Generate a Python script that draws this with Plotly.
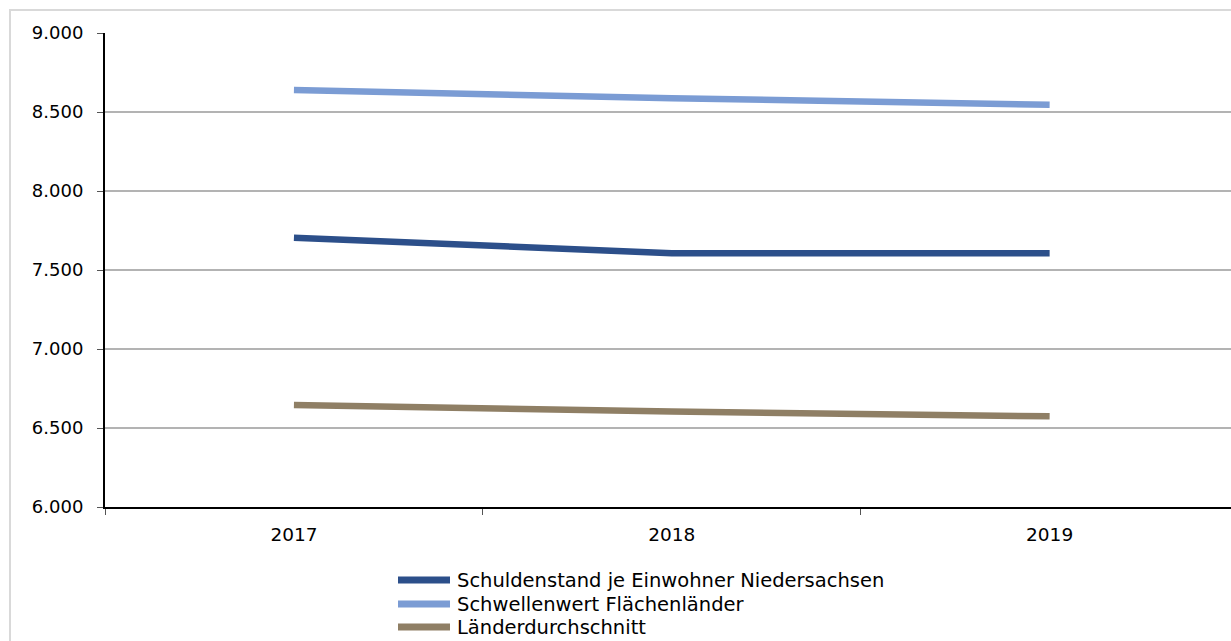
import plotly.graph_objects as go

years = ["2017", "2018", "2019"]
schuldenstand = [7704, 7606, 7606]
schwellenwert = [8639, 8587, 8546]
laenderdurchschnitt = [6646, 6604, 6574]

series_names = ["Schuldenstand je Einwohner Niedersachsen", "Schwellenwert Flächenländer", "Länderdurchschnitt"]
series_values = [schuldenstand, schwellenwert, laenderdurchschnitt]
colors = ["#2c4f8a", "#7b9cd4", "#8f7f65"]

y_ticks = [6000, 6500, 7000, 7500, 8000, 8500, 9000]
y_labels = ["6.000", "6.500", "7.000", "7.500", "8.000", "8.500", "9.000"]

# plot area in pixels (for placing the legend below the plot)
L, R, T, B = 105, 1231, 33, 507
W, H = R - L, B - T

fig = go.Figure()
for name, vals, col in zip(series_names, series_values, colors):
    fig.add_trace(go.Scatter(x=years, y=vals, name=name, mode="lines",
                             line=dict(color=col, width=6.5), showlegend=False))

font_family = "DejaVu Sans, sans-serif"
fig.update_layout(
    width=1231, height=641,
    margin=dict(l=L, r=1231 - R, t=T, b=641 - B, autoexpand=False),
    paper_bgcolor="white", plot_bgcolor="white",
    font=dict(family=font_family, size=18, color="black"),
    showlegend=False,
    xaxis=dict(type="category", range=[-0.5, 2.48], tickson="boundaries",
               ticks="outside", ticklen=6, tickwidth=1, tickcolor="#555",
               showline=True, linecolor="black", linewidth=2,
               showgrid=False, zeroline=False, ticklabelstandoff=10,
               tickfont=dict(size=18.5)),
    yaxis=dict(range=[6000, 9000], tickvals=y_ticks, ticktext=y_labels,
               ticks="outside", ticklen=6, tickwidth=1, tickcolor="#555",
               showline=True, linecolor="black", linewidth=2,
               showgrid=True, gridcolor="#b3b3b3", gridwidth=1.5,
               zeroline=False, ticklabelstandoff=10, tickfont=dict(size=18)),
)

# legend drawn below the plot: line sample + label for each series
row_y = [580, 604, 627]
for name, col, py in zip(series_names, colors, row_y):
    yp = (B - py) / H
    fig.add_shape(type="line", xref="paper", yref="paper",
                  x0=(398 - L) / W, x1=(450 - L) / W, y0=yp, y1=yp,
                  line=dict(color=col, width=7))
    fig.add_annotation(text=name, xref="paper", yref="paper",
                       x=(455 - L) / W, y=yp, xanchor="left", yanchor="middle",
                       showarrow=False, font=dict(size=19.5, color="black"))

# outer chart border (light gray)
fig.add_shape(type="rect", xref="paper", yref="paper",
              x0=(10 - L) / W, x1=1.2, y0=-0.5, y1=(B - 10) / H,
              line=dict(color="#d9d9d9", width=2), layer="below")

fig.write_html("out.html")
